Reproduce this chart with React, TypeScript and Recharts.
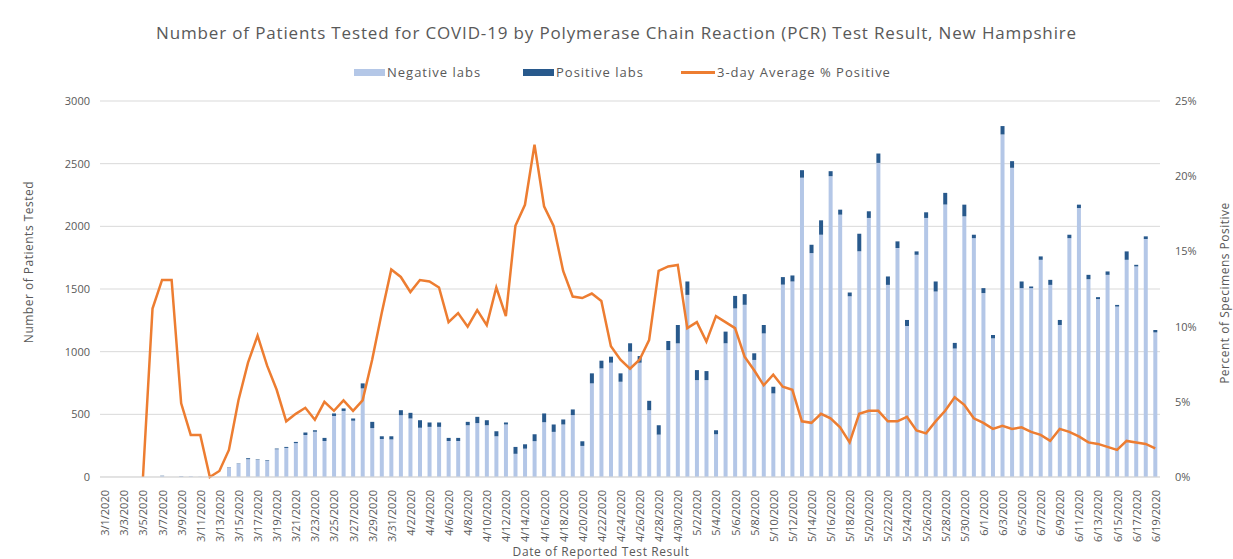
import React from "react";
import { Bar, CartesianGrid, ComposedChart, Line, XAxis, YAxis } from "recharts";

// 3/1/2020 .. 6/19/2020, one category per day
const monthDays: [number, number][] = [
  [3, 31],
  [4, 30],
  [5, 31],
  [6, 19],
];
const dates: string[] = [];
monthDays.forEach(([m, n]) => {
  for (let d = 1; d <= n; d++) dates.push(`${m}/${d}/2020`);
});

// total patients tested per day (negative + positive)
const totalTested = [
  0, 0, 0, 0, 0, 0, 10, 0, 8, 6,
  3, 0, 0, 80, 107, 150, 140, 133, 227, 240,
  280, 355, 373, 312, 507, 547, 467, 747, 440, 325,
  325, 533, 512, 453, 435, 435, 312, 312, 440, 480,
  453, 365, 435, 240, 261, 341, 507, 419, 459, 539,
  285, 827, 928, 960, 827, 1067, 965, 608, 413, 1085,
  1213, 1560, 853, 845, 373, 1160, 1445, 1459, 987, 1213,
  720, 1595, 1608, 2448, 1853, 2048, 2440, 2133, 1472, 1941,
  2120, 2581, 1600, 1880, 1253, 1800, 2112, 1560, 2267, 1070,
  2173, 1933, 1507, 1133, 2800, 2520, 1560, 1520, 1760, 1573,
  1253, 1933, 2173, 1613, 1435, 1640, 1373, 1800, 1693, 1920,
  1173,
];

const positiveLabs = [
  0, 0, 0, 0, 0, 0, 2, 0, 1, 0,
  0, 0, 0, 2, 3, 8, 5, 5, 6, 8,
  10, 20, 12, 25, 20, 20, 18, 40, 50, 22,
  25, 40, 45, 60, 35, 35, 25, 25, 27, 50,
  40, 40, 16, 55, 35, 55, 70, 59, 40, 45,
  37, 80, 61, 48, 67, 67, 53, 75, 75, 72,
  147, 107, 80, 72, 32, 93, 100, 85, 53, 67,
  53, 60, 48, 60, 67, 115, 40, 40, 30, 140,
  53, 75, 67, 53, 48, 27, 45, 80, 93, 45,
  93, 27, 40, 27, 67, 53, 53, 13, 27, 40,
  40, 27, 27, 35, 16, 27, 13, 67, 13, 21,
  19,
];

const avgPctPositive: (number | null)[] = [
  null, null, null, null, 0, 11.2, 13.1, 13.1, 4.9, 2.8,
  2.8, 0, 0.4, 1.8, 5.1, 7.6, 9.4, 7.4, 5.8, 3.7,
  4.2, 4.6, 3.8, 5.0, 4.4, 5.1, 4.4, 5.1, 7.8, 10.9,
  13.8, 13.3, 12.3, 13.1, 13.0, 12.6, 10.3, 10.9, 10.0, 11.1,
  10.1, 12.6, 10.7, 16.7, 18.1, 22.1, 18.0, 16.7, 13.7, 12.0,
  11.9, 12.2, 11.7, 8.7, 7.8, 7.2, 7.8, 9.1, 13.7, 14.0,
  14.1, 9.9, 10.3, 9.0, 10.7, 10.3, 9.9, 8.0, 7.1, 6.1,
  6.8, 6.0, 5.8, 3.7, 3.6, 4.2, 3.9, 3.3, 2.3, 4.2,
  4.4, 4.4, 3.7, 3.7, 4.0, 3.1, 2.9, 3.7, 4.4, 5.3,
  4.8, 3.9, 3.6, 3.2, 3.4, 3.2, 3.3, 3.0, 2.8, 2.4,
  3.2, 3.0, 2.7, 2.3, 2.2, 2.0, 1.8, 2.4, 2.3, 2.2,
  1.9,
];

const leftTicks = [0, 500, 1000, 1500, 2000, 2500, 3000];
const rightTicks = [0, 5, 10, 15, 20, 25];

const data = dates.map((date, i) => ({
  date,
  negative: totalTested[i] - positiveLabs[i],
  positive: positiveLabs[i],
  pct: avgPctPositive[i],
}));

const GREY = "#595959";
const NEG = "#B4C7E7";
const POS = "#28598C";
const ORANGE = "#ED7D31";

const legendItem: React.CSSProperties = {
  position: "absolute",
  top: 63,
  display: "flex",
  alignItems: "center",
  fontSize: 13,
  lineHeight: "18px",
  letterSpacing: 1,
};

const DateTick = ({ x, y, payload }: any) => (
  <g transform={`translate(${x},${y + 5})`}>
    <text transform="rotate(-90)" textAnchor="end" dominantBaseline="central" fontSize={11} fill={GREY}>
      {payload.value}
    </text>
  </g>
);

export default function App() {
  return (
    <div
      style={{
        position: "absolute",
        left: 0,
        top: 0,
        width: 1233,
        height: 559,
        background: "#fff",
        overflow: "hidden",
        fontFamily: '"Open Sans", sans-serif',
        color: GREY,
      }}
    >
      <div
        style={{
          position: "absolute",
          top: 22,
          left: 0,
          width: 1233,
          textAlign: "center",
          fontSize: 17,
          lineHeight: "22px",
          letterSpacing: 0.85,
        }}
      >
        Number of Patients Tested for COVID-19 by Polymerase Chain Reaction (PCR) Test Result, New Hampshire
      </div>

      {/* legend */}
      <div style={{ ...legendItem, left: 354 }}>
        <span style={{ width: 31, height: 7, background: NEG, marginRight: 2 }} />
        Negative labs
      </div>
      <div style={{ ...legendItem, left: 523 }}>
        <span style={{ width: 31, height: 7, background: POS, marginRight: 2 }} />
        Positive labs
      </div>
      <div style={{ ...legendItem, left: 681 }}>
        <span style={{ width: 34, height: 3, background: ORANGE, marginRight: 2 }} />
        3-day Average % Positive
      </div>

      <ComposedChart width={1233} height={559} data={data} margin={{ top: 101, right: 18, bottom: 0, left: 40 }} barCategoryGap="30%">
        <CartesianGrid yAxisId="left" vertical={false} stroke="#D9D9D9" />
        <XAxis
          dataKey="date"
          interval={1}
          tick={<DateTick />}
          tickLine={false}
          axisLine={{ stroke: "#D9D9D9" }}
          height={82}
        />
        <YAxis
          yAxisId="left"
          width={60}
          domain={[0, 3000]}
          ticks={leftTicks}
          axisLine={false}
          tickLine={false}
          tickMargin={4}
          tick={{ fontSize: 11, fill: GREY }}
        />
        <YAxis
          yAxisId="right"
          orientation="right"
          width={55}
          domain={[0, 25]}
          ticks={rightTicks}
          axisLine={false}
          tickLine={false}
          tickMargin={9}
          tickFormatter={(v) => `${v}%`}
          tick={{ fontSize: 11, fill: GREY, textAnchor: "start" }}
        />
        <Bar yAxisId="left" dataKey="negative" stackId="a" fill={NEG} isAnimationActive={false} />
        <Bar yAxisId="left" dataKey="positive" stackId="a" fill={POS} isAnimationActive={false} />
        <Line
          yAxisId="right"
          dataKey="pct"
          type="linear"
          stroke={ORANGE}
          strokeWidth={2.5}
          dot={false}
          connectNulls={false}
          isAnimationActive={false}
        />
      </ComposedChart>

      <div style={{ position: "absolute", left: 28, top: 262, transform: "translate(-50%,-50%) rotate(-90deg)", fontSize: 12, letterSpacing: 0.5, whiteSpace: "nowrap" }}>
        Number of Patients Tested
      </div>
      <div style={{ position: "absolute", left: 1224, top: 293, transform: "translate(-50%,-50%) rotate(-90deg)", fontSize: 12, letterSpacing: 0.5, whiteSpace: "nowrap" }}>
        Percent of Specimens Positive
      </div>
      <div style={{ position: "absolute", left: 601, top: 551, transform: "translate(-50%,-50%)", fontSize: 12, letterSpacing: 0.6, whiteSpace: "nowrap" }}>
        Date of Reported Test Result
      </div>
    </div>
  );
}
